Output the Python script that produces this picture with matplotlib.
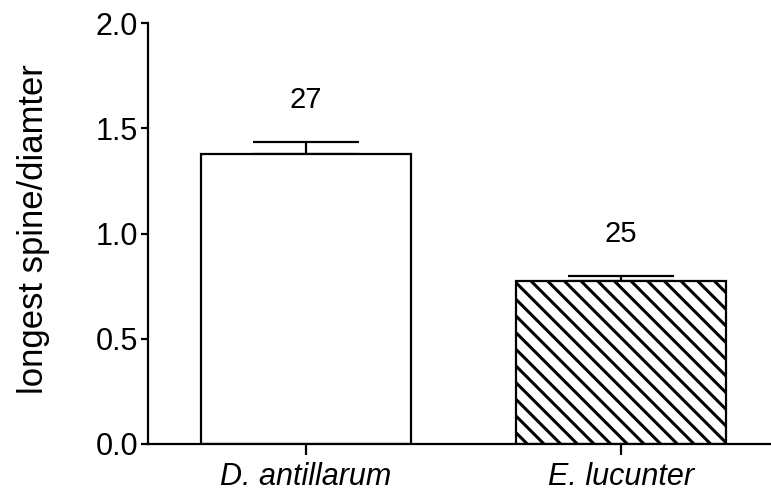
import matplotlib
matplotlib.use("Agg")
import matplotlib.pyplot as plt

categories = ["D. antillarum", "E. lucunter"]
means = [1.38, 0.775]
errors = [0.055, 0.023]
n_labels = ["27", "25"]
hatches = ["", "\\\\"]

plt.rcParams['font.family'] = ['Liberation Sans', 'DejaVu Sans']
plt.rcParams['hatch.linewidth'] = 2.2
plt.rcParams['hatch.color'] = 'black'

fig = plt.figure(figsize=(7.71, 4.93), dpi=100)
ax = fig.add_axes([0.192, 0.0994, 0.808, 0.8536])

x = list(range(len(categories)))
for xi, m, e, h in zip(x, means, errors, hatches):
    ax.bar(xi, m, width=0.667, color='white', edgecolor='black',
           linewidth=1.6, hatch=h, zorder=2)
    ax.errorbar(xi, m, yerr=[[0], [e]], fmt='none', ecolor='black',
                elinewidth=1.6, capsize=38, capthick=1.6, zorder=1)

for xi, m, e, lab in zip(x, means, errors, n_labels):
    ax.text(xi, m + e + 0.2, lab, ha='center', va='center', fontsize=21)

ax.set_xlim(-0.5016, 1.476)
ax.set_ylim(0, 2.0)
ax.set_yticks([0.0, 0.5, 1.0, 1.5, 2.0])
ax.set_yticklabels(["0.0", "0.5", "1.0", "1.5", "2.0"])
ax.set_xticks(x)
ax.set_xticklabels(categories, fontstyle='italic')
ax.tick_params(axis='both', labelsize=22, width=1.6)
ax.tick_params(axis='y', length=5, pad=2)
ax.tick_params(axis='x', length=8, pad=5)
ax.spines['top'].set_visible(False)
ax.spines['right'].set_visible(False)
ax.spines['left'].set_linewidth(1.6)
ax.spines['bottom'].set_linewidth(1.6)
ax.set_ylabel("longest spine/diamter", fontsize=24.9)
ax.yaxis.set_label_coords(-0.157, 0.511)

fig.savefig("out.png", dpi=100)
